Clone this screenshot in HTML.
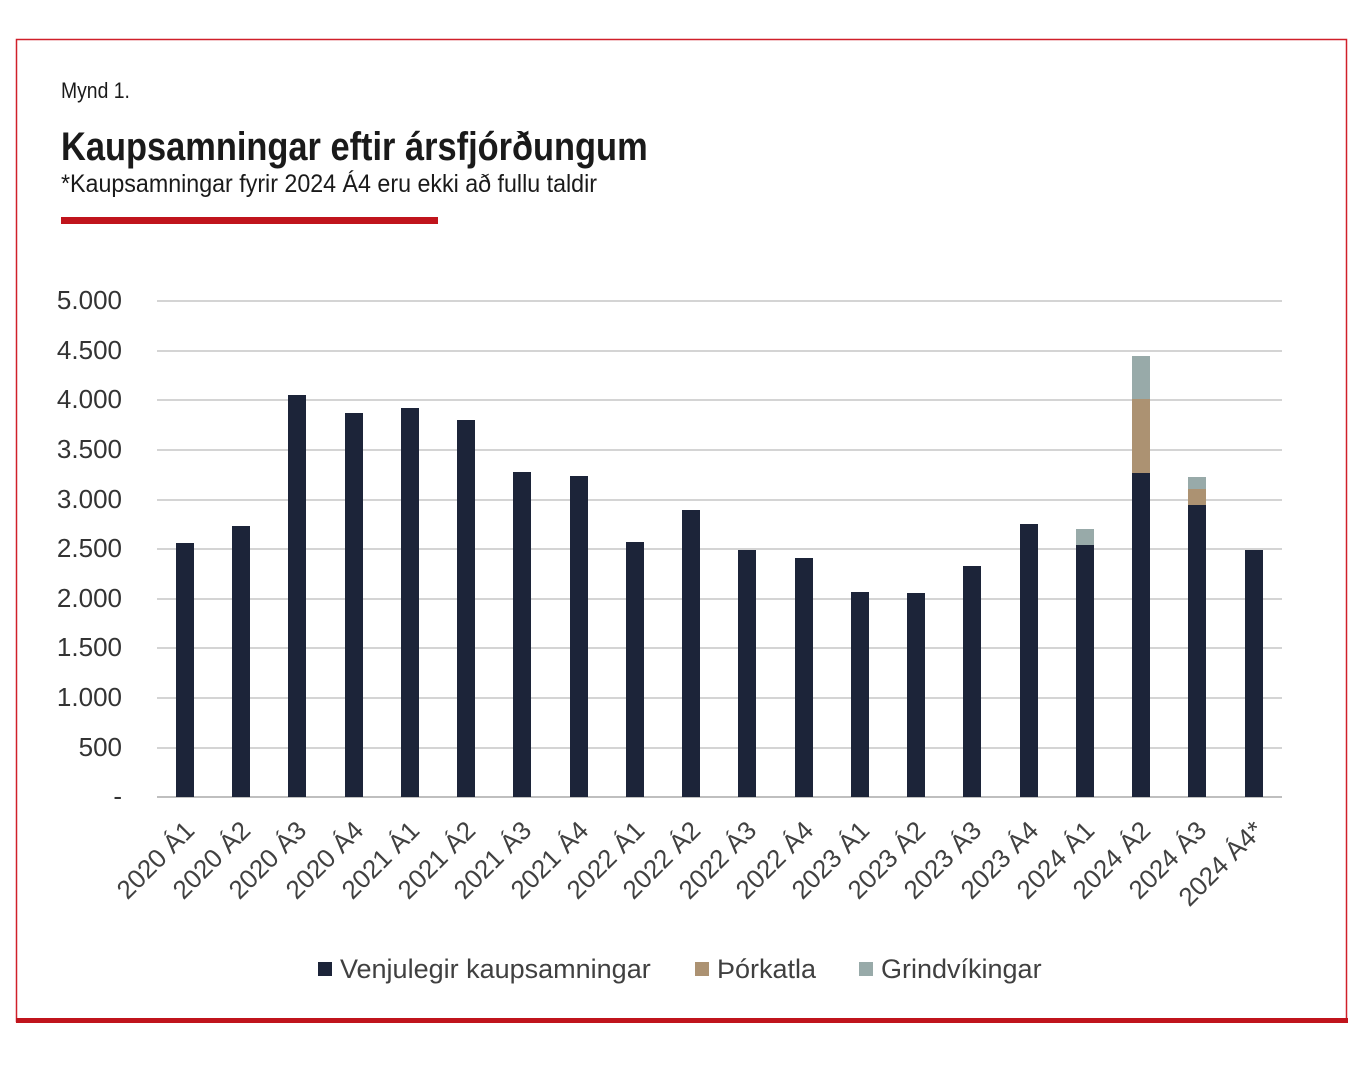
<!DOCTYPE html>
<html><head><meta charset="utf-8"><style>
html,body{margin:0;padding:0;background:#fff;}
body{width:1362px;height:1080px;position:relative;overflow:hidden;}
</style></head><body>
<svg width="1362" height="1080" xmlns="http://www.w3.org/2000/svg">
<rect x="16.5" y="39.5" width="1330" height="982" fill="none" stroke="#d0202a" stroke-width="1.5"/>
<rect x="16" y="1018" width="1332" height="5" fill="#c0141c"/>
<g font-family="'Liberation Sans',sans-serif" fill="#1a1a1a">
<text transform="translate(61,98) scale(0.88,1)" font-size="22">Mynd 1.</text>
<text transform="translate(61,160) scale(0.86,1)" font-size="40" font-weight="bold">Kaupsamningar eftir ársfjórðungum</text>
<text transform="translate(61,192) scale(0.93,1)" font-size="25">*Kaupsamningar fyrir 2024 Á4 eru ekki að fullu taldir</text>
</g>
<rect x="61" y="217" width="377" height="7" fill="#c0141c"/>
<g stroke="#d4d4d4" stroke-width="2">
<line x1="157" x2="1282" y1="301" y2="301"/>
<line x1="157" x2="1282" y1="351" y2="351"/>
<line x1="157" x2="1282" y1="400" y2="400"/>
<line x1="157" x2="1282" y1="450" y2="450"/>
<line x1="157" x2="1282" y1="500" y2="500"/>
<line x1="157" x2="1282" y1="549" y2="549"/>
<line x1="157" x2="1282" y1="599" y2="599"/>
<line x1="157" x2="1282" y1="648" y2="648"/>
<line x1="157" x2="1282" y1="698" y2="698"/>
<line x1="157" x2="1282" y1="748" y2="748"/>
<line x1="157" x2="1282" y1="797" y2="797" stroke="#bfbfbf"/>
</g>
<g font-family="'Liberation Sans',sans-serif" font-size="26" fill="#333" text-anchor="end">
<text x="122" y="309">5.000</text><text x="122" y="359">4.500</text><text x="122" y="408">4.000</text>
<text x="122" y="458">3.500</text><text x="122" y="508">3.000</text><text x="122" y="557">2.500</text>
<text x="122" y="607">2.000</text><text x="122" y="656">1.500</text><text x="122" y="706">1.000</text>
<text x="122" y="756">500</text><text x="122" y="805">-</text>
</g>
<g fill="#1c2439">
<rect x="176" y="543" width="18" height="254"/>
<rect x="232" y="526" width="18" height="271"/>
<rect x="288" y="395" width="18" height="402"/>
<rect x="345" y="413" width="18" height="384"/>
<rect x="401" y="408" width="18" height="389"/>
<rect x="457" y="420" width="18" height="377"/>
<rect x="513" y="472" width="18" height="325"/>
<rect x="570" y="476" width="18" height="321"/>
<rect x="626" y="542" width="18" height="255"/>
<rect x="682" y="510" width="18" height="287"/>
<rect x="738" y="550" width="18" height="247"/>
<rect x="795" y="558" width="18" height="239"/>
<rect x="851" y="592" width="18" height="205"/>
<rect x="907" y="593" width="18" height="204"/>
<rect x="963" y="566" width="18" height="231"/>
<rect x="1020" y="524" width="18" height="273"/>
<rect x="1076" y="545" width="18" height="252"/>
<rect x="1132" y="473" width="18" height="324"/>
<rect x="1188" y="505" width="18" height="292"/>
<rect x="1245" y="550" width="18" height="247"/>
</g>
<rect x="1076" y="529" width="18" height="16" fill="#98aaa9"/>
<rect x="1132" y="399" width="18" height="74" fill="#ac9272"/>
<rect x="1132" y="356" width="18" height="43" fill="#98aaa9"/>
<rect x="1188" y="489" width="18" height="16" fill="#ac9272"/>
<rect x="1188" y="477" width="18" height="12" fill="#98aaa9"/>
<g font-family="'Liberation Sans',sans-serif" font-size="26" fill="#404040" text-anchor="end">
<text transform="translate(196,832) rotate(-45)">2020 Á1</text>
<text transform="translate(252,832) rotate(-45)">2020 Á2</text>
<text transform="translate(308,832) rotate(-45)">2020 Á3</text>
<text transform="translate(365,832) rotate(-45)">2020 Á4</text>
<text transform="translate(421,832) rotate(-45)">2021 Á1</text>
<text transform="translate(477,832) rotate(-45)">2021 Á2</text>
<text transform="translate(533,832) rotate(-45)">2021 Á3</text>
<text transform="translate(590,832) rotate(-45)">2021 Á4</text>
<text transform="translate(646,832) rotate(-45)">2022 Á1</text>
<text transform="translate(702,832) rotate(-45)">2022 Á2</text>
<text transform="translate(758,832) rotate(-45)">2022 Á3</text>
<text transform="translate(815,832) rotate(-45)">2022 Á4</text>
<text transform="translate(871,832) rotate(-45)">2023 Á1</text>
<text transform="translate(927,832) rotate(-45)">2023 Á2</text>
<text transform="translate(983,832) rotate(-45)">2023 Á3</text>
<text transform="translate(1040,832) rotate(-45)">2023 Á4</text>
<text transform="translate(1096,832) rotate(-45)">2024 Á1</text>
<text transform="translate(1152,832) rotate(-45)">2024 Á2</text>
<text transform="translate(1208,832) rotate(-45)">2024 Á3</text>
<text transform="translate(1265,832) rotate(-45)">2024 Á4*</text>
</g>
<g font-family="'Liberation Sans',sans-serif" font-size="27" fill="#404040">
<rect x="318" y="962" width="14" height="14" fill="#1c2439"/>
<text x="340" y="978">Venjulegir kaupsamningar</text>
<rect x="695" y="962" width="14" height="14" fill="#ac9272"/>
<text x="717" y="978">Þórkatla</text>
<rect x="859" y="962" width="14" height="14" fill="#98aaa9"/>
<text x="881" y="978">Grindvíkingar</text>
</g>
</svg>
</body></html>
